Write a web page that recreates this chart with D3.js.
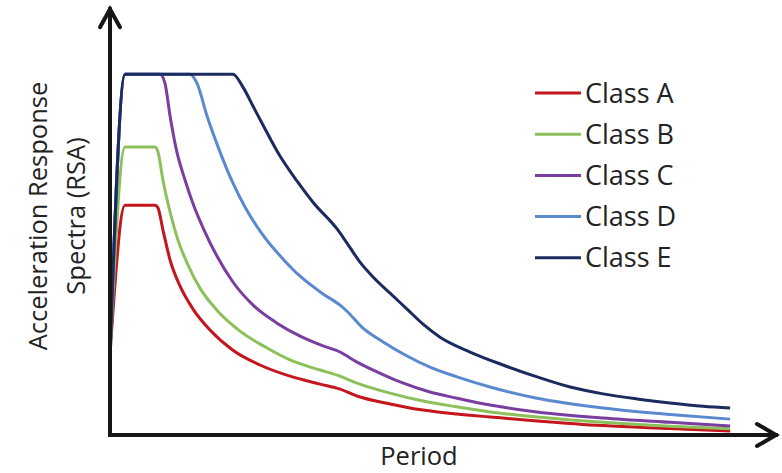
<!DOCTYPE html>
<html><head><meta charset="utf-8">
<script src="https://cdn.jsdelivr.net/npm/d3@7"></script>
<style>html,body{margin:0;padding:0;background:#fff;}svg{display:block;}</style>
</head><body>
<svg id="chart" width="782" height="473"></svg>
<script>
// Data (period, RSA) — schematic design spectra
const seriesNames = ["Class A", "Class B", "Class C", "Class D", "Class E"];
const seriesColors = ["#c4161c", "#8cc05a", "#7a3ea0", "#5b89cf", "#1b2b5e"];
const classA = [[0,0.222],[0.091,0.637],[0.273,0.637],[0.291,0.629],[0.321,0.568],[0.364,0.485],[0.424,0.413],[0.503,0.349],[0.606,0.291],[0.745,0.235],[0.909,0.194],[1.091,0.163],[1.273,0.141],[1.394,0.127],[1.497,0.108],[1.697,0.086],[1.897,0.069],[2.103,0.058],[2.303,0.050],[2.588,0.039],[2.988,0.026],[3.394,0.018],[3.758,0.011]];
const classB = [[0,0.222],[0.091,0.798],[0.273,0.798],[0.291,0.784],[0.321,0.706],[0.364,0.618],[0.412,0.540],[0.473,0.471],[0.545,0.407],[0.648,0.346],[0.788,0.288],[0.952,0.241],[1.091,0.208],[1.273,0.180],[1.394,0.163],[1.497,0.144],[1.697,0.116],[1.897,0.094],[2.103,0.078],[2.303,0.064],[2.588,0.050],[2.988,0.035],[3.394,0.024],[3.758,0.017]];
const classC = [[0,0.222],[0.091,1.0],[0.303,1.0],[0.333,0.975],[0.364,0.884],[0.400,0.795],[0.455,0.706],[0.509,0.634],[0.570,0.568],[0.648,0.496],[0.745,0.424],[0.867,0.360],[1.012,0.310],[1.152,0.274],[1.291,0.247],[1.394,0.230],[1.497,0.202],[1.618,0.175],[1.758,0.147],[1.939,0.119],[2.103,0.102],[2.303,0.083],[2.588,0.064],[2.988,0.047],[3.394,0.035],[3.758,0.025]];
const classD = [[0,0.222],[0.091,1.0],[0.485,1.0],[0.527,0.975],[0.588,0.884],[0.667,0.784],[0.739,0.704],[0.818,0.632],[0.927,0.554],[1.048,0.488],[1.152,0.440],[1.291,0.391],[1.394,0.360],[1.436,0.343],[1.533,0.296],[1.655,0.258],[1.800,0.219],[1.939,0.188],[2.103,0.161],[2.303,0.133],[2.588,0.102],[2.988,0.075],[3.394,0.057],[3.758,0.044]];
const classE = [[0,0.222],[0.091,1.0],[0.745,1.0],[0.806,0.964],[0.867,0.911],[0.927,0.859],[1.030,0.773],[1.133,0.704],[1.230,0.645],[1.376,0.571],[1.436,0.532],[1.515,0.479],[1.594,0.438],[1.697,0.393],[1.800,0.349],[1.897,0.307],[2.000,0.271],[2.182,0.230],[2.382,0.194],[2.588,0.161],[2.788,0.133],[2.988,0.114],[3.194,0.100],[3.394,0.089],[3.594,0.080],[3.758,0.075]];
const seriesData = [classA, classB, classC, classD, classE];
const xLabel = "Period";
const yLabelLines = ["Acceleration Response", "Spectra (RSA)"];

const svg = d3.select("#chart");
const font = "'Open Sans', sans-serif";
const x = d3.scaleLinear().domain([0, 4.048]).range([110, 778]);
const y = d3.scaleLinear().domain([0, 1.2]).range([435, 2]);

const line = d3.line().x(d => x(d[0])).y(d => y(d[1])).curve(d3.curveMonotoneX);

svg.append("g").selectAll("path").data(seriesData).join("path")
  .attr("d", line)
  .attr("fill", "none")
  .attr("stroke", (d, i) => seriesColors[i])
  .attr("stroke-width", 3)
  .attr("stroke-linejoin", "round");

// axes with arrows
const axisColor = "#161616";
const ax = svg.append("g").attr("stroke", axisColor).attr("stroke-width", 4).attr("fill", "none")
  .attr("stroke-linecap", "square").attr("stroke-linejoin", "miter");
const x0 = x(0), y0 = y(0), xEnd = x.range()[1] - 2, yTop = y(1.18);
ax.append("path").attr("d", `M${x0},${yTop} L${x0},${y0} L${xEnd},${y0}`);
ax.append("path").attr("d", `M${x0-10},${yTop+18} L${x0},${yTop} L${x0+10},${yTop+18}`).attr("stroke-linecap", "round");
ax.append("path").attr("d", `M${xEnd-19},${y0-11} L${xEnd},${y0} L${xEnd-19},${y0+11}`).attr("stroke-linecap", "round");

// axis labels
svg.append("text").attr("x", 419).attr("y", 465).attr("text-anchor", "middle")
  .attr("font-family", font).attr("font-size", 25.5).attr("fill", "#222").text(xLabel);
const yl = svg.append("text").attr("transform", "translate(47,216) rotate(-90)")
  .attr("text-anchor", "middle").attr("font-family", font).attr("font-size", 25.5).attr("fill", "#222");
yLabelLines.forEach((t, i) => yl.append("tspan").attr("x", 0).attr("y", i * 38).text(t));

// legend
const lg = svg.append("g").selectAll("g").data(seriesNames).join("g")
  .attr("transform", (d, i) => `translate(535,${93 + i * 41.2})`);
lg.append("line").attr("x1", 0).attr("x2", 46).attr("y1", 0).attr("y2", 0)
  .attr("stroke", (d, i) => seriesColors[i]).attr("stroke-width", 3);
lg.append("text").attr("x", 50).attr("y", 9.5).attr("font-family", font).attr("font-size", 27)
  .attr("fill", "#222").text(d => d);
</script>
</body></html>
